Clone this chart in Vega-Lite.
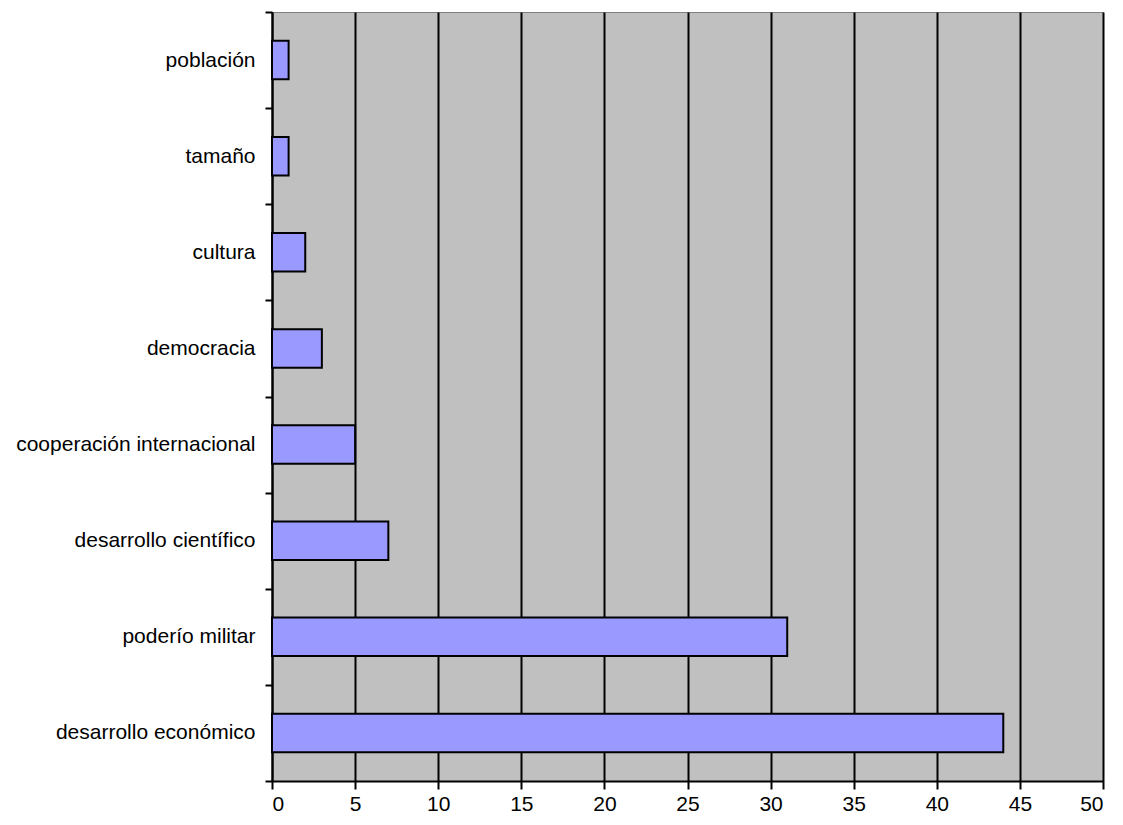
{
  "$schema": "https://vega.github.io/schema/vega-lite/v6.json",
  "autosize": {"type": "none"},
  "width": 831,
  "height": 769,
  "padding": {"left": 272, "top": 12, "right": 20, "bottom": 44},
  "background": "white",
  "config": {
    "view": {"fill": "#C0C0C0", "stroke": "#808080", "strokeWidth": 1},
    "font": "Liberation Sans"
  },
  "data": {
    "values": [
      {"factor": "población", "valor": 1},
      {"factor": "tamaño", "valor": 1},
      {"factor": "cultura", "valor": 2},
      {"factor": "democracia", "valor": 3},
      {"factor": "cooperación internacional", "valor": 5},
      {"factor": "desarrollo científico", "valor": 7},
      {"factor": "poderío militar", "valor": 31},
      {"factor": "desarrollo económico", "valor": 44}
    ]
  },
  "mark": {"type": "bar", "color": "#9999FF", "stroke": "black", "strokeWidth": 2, "height": {"band": 0.4}},
  "encoding": {
    "y": {
      "field": "factor",
      "type": "nominal",
      "sort": null,
      "scale": {"paddingInner": 0, "paddingOuter": 0},
      "axis": {
        "title": null,
        "domainColor": "black",
        "domainWidth": 2,
        "tickColor": "black",
        "tickWidth": 2,
        "tickSize": 7,
        "tickBand": "extent",
        "labelFontSize": 21,
        "labelColor": "black",
        "labelPadding": 10,
        "labelLimit": 400,
        "labelFont": "Liberation Sans"
      }
    },
    "x": {
      "field": "valor",
      "type": "quantitative",
      "scale": {"domain": [0, 50], "nice": false},
      "axis": {
        "title": null,
        "values": [0, 5, 10, 15, 20, 25, 30, 35, 40, 45, 50],
        "grid": true,
        "gridColor": "black",
        "gridWidth": 2,
        "gridOpacity": 1,
        "domainColor": "black",
        "domainWidth": 2,
        "tickColor": "black",
        "tickWidth": 2,
        "tickSize": 8,
        "labelFontSize": 21,
        "labelColor": "black",
        "labelPadding": 4,
        "labelFont": "Liberation Sans"
      }
    }
  }
}
